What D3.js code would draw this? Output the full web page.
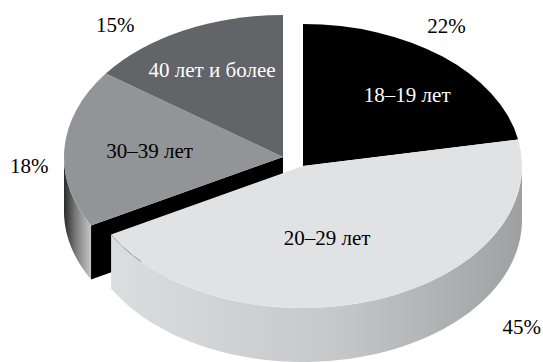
<!DOCTYPE html>
<html>
<head>
<meta charset="utf-8">
<script src="https://cdn.jsdelivr.net/npm/d3@7"></script>
<style>
  body { margin: 0; background: #fff; }
</style>
</head>
<body>
<div id="chart"></div>
<script>
// data
const categories = ['18–19 лет', '20–29 лет', '30–39 лет', '40 лет и более'];
const shares = [22, 45, 18, 15];
const percentLabels = ['22%', '45%', '18%', '15%'];

// look
const topColors = ['#000000', '#e1e2e4', '#939498', '#636468'];
const textColors = ['#ffffff', '#000000', '#000000', '#ffffff'];
const wallStops = [
    null,
    [[0, '#dcdddf'], [0.55, '#c6c7c9'], [1, '#9fa0a2']],
    [[0, '#2a2a2a'], [0.45, '#7d7d7d'], [1, '#c6c6c6']],
    null
];
const exploded = [0, 0, 1, 1];
// label placement: angle shift (deg) and radius factor, inside / outside
const innerShift = [4, 7.6, 0, -1];
const innerR = [0.69, 0.52, 0.61, 0.69];
const outerShift = [-6, -21.6, -6.6, -12.5];
const outerR = [1.185, 1.51, 1.16, 1.205];

(function () {
    const width = 543, height = 362;
    const cx = 303, cy = 166, rx = 219, ry = 142, depth = 54;
    const explodeShift = [-20, -9];

    const svg = d3.select('#chart').append('svg')
        .attr('width', width)
        .attr('height', height);

    const defs = svg.append('defs');

    const pie = d3.pie().sort(null).value(d => d);
    const arcs = pie(shares);

    const arc = d3.arc().innerRadius(0).outerRadius(rx);

    function center(i) {
        return exploded[i] ? [cx + explodeShift[0], cy + explodeShift[1]] : [cx, cy];
    }
    function proj(i, a, r, dz) {
        const c = center(i);
        return [c[0] + r * rx * Math.sin(a), c[1] - r * ry * Math.cos(a) + (dz || 0)];
    }

    function drawSlice(i) {
        const d = arcs[i];
        const g = svg.append('g');

        // outer wall, only the front half shows
        const a0 = Math.max(d.startAngle, Math.PI / 2);
        const a1 = Math.min(d.endAngle, Math.PI * 1.5);
        if (a1 > a0 && wallStops[i]) {
            const steps = d3.range(0, 61).map(k => a0 + (a1 - a0) * k / 60);
            const pts = steps.map(a => proj(i, a, 1, 0))
                .concat(steps.slice().reverse().map(a => proj(i, a, 1, depth)));
            const xs = pts.map(p => p[0]);
            const grad = defs.append('linearGradient')
                .attr('id', 'wall' + i)
                .attr('gradientUnits', 'userSpaceOnUse')
                .attr('x1', d3.min(xs)).attr('x2', d3.max(xs))
                .attr('y1', 0).attr('y2', 0);
            grad.selectAll('stop')
                .data(wallStops[i])
                .join('stop')
                .attr('offset', s => s[0])
                .attr('stop-color', s => s[1]);
            g.append('path')
                .attr('d', d3.line()(pts) + 'Z')
                .attr('fill', 'url(#wall' + i + ')');
        }

        // cut face at the start edge when it borders the gap
        const prev = (i + arcs.length - 1) % arcs.length;
        if (exploded[prev] !== exploded[i] && Math.sin(d.startAngle) < -1e-6) {
            const c = center(i);
            const p = proj(i, d.startAngle, 1, 0);
            const face = [c, p, [p[0], p[1] + depth], [c[0], c[1] + depth]];
            g.append('path').attr('d', d3.line()(face) + 'Z').attr('fill', '#000');
        }
    }

    function drawTop(i) {
        const c = center(i);
        svg.append('path')
            .attr('d', arc(arcs[i]))
            .attr('transform', `translate(${c[0]},${c[1]}) scale(1,${ry / rx})`)
            .attr('fill', topColors[i]);
    }

    const order = d3.range(arcs.length).sort((a, b) => exploded[b] - exploded[a]);
    const groups = d3.groups(order, i => exploded[i]);
    groups.forEach(([, idx]) => {
        idx.forEach(drawSlice);
        idx.forEach(drawTop);
    });

    // labels
    function label(p, txt, color) {
        svg.append('text')
            .attr('x', p[0]).attr('y', p[1])
            .attr('dy', '0.33em')
            .attr('text-anchor', 'middle')
            .attr('font-family', '"Liberation Serif"')
            .attr('font-size', 21)
            .attr('fill', color)
            .text(txt);
    }
    arcs.forEach((d, i) => {
        const mid = (d.startAngle + d.endAngle) / 2;
        label(proj(i, mid + innerShift[i] * Math.PI / 180, innerR[i]), categories[i], textColors[i]);
        label(proj(i, mid + outerShift[i] * Math.PI / 180, outerR[i]), percentLabels[i], '#000');
    });
})();
</script>
</body>
</html>
